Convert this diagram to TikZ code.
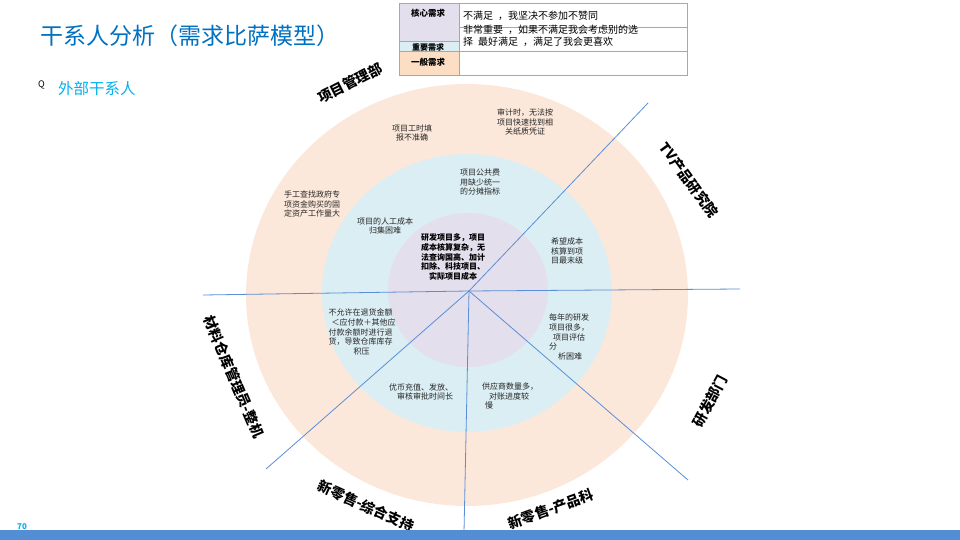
\documentclass[tikz,border=0pt]{standalone}
\usepackage{fontspec}
\setmainfont{Noto Sans CJK SC}
\usepackage{xcolor}
\usepackage{tikz}
\usetikzlibrary{positioning,calc}
\definecolor{titulo}{RGB}{0,112,192}
\definecolor{cian}{RGB}{0,176,240}
\definecolor{naranjo}{RGB}{252,232,218}
\definecolor{celeste}{RGB}{219,238,243}
\definecolor{lila}{RGB}{228,223,236}
\definecolor{linea}{RGB}{90,142,214}
\definecolor{barra}{RGB}{83,142,213}
\definecolor{borde}{RGB}{143,170,220}

\begin{document}
\begin{tikzpicture}[x=1pt,y=-1pt,
need/.style={align=center,font=\fontsize{8}{9.6}\selectfont,text=black!85,inner sep=0pt},
nucleo/.style={align=center,font=\bfseries\fontsize{8}{9.6}\selectfont,inner sep=0pt},
depto/.style={font=\bfseries\fontsize{14}{14}\selectfont,inner sep=0pt},
celda/.style={draw=borde,line width=0.8pt},
tag/.style={font=\bfseries\fontsize{8.5}{9}\selectfont,inner sep=0pt},
corte/.style={draw=linea,line width=0.8pt}
]
\useasboundingbox (0,0) rectangle (960,540);

% titulo
\node[anchor=west,inner sep=0pt,text=titulo,font=\fontsize{23}{23}\selectfont] (titulo) at (40,36) {干系人分析（需求比萨模型）};
\node[anchor=west,inner sep=0pt,font=\fontsize{9}{9}\selectfont] (bala) at (38,85) {Q};
\node[anchor=west,inner sep=0pt,text=cian,font=\fontsize{15.5}{15.5}\selectfont] (externo) at (58,89) {外部干系人};

% pizza
\fill[naranjo] (467,295) ellipse [x radius=221pt,y radius=211pt];
\fill[celeste] (467,293) ellipse [x radius=145pt,y radius=139pt];
\fill[lila] (468,290) ellipse [x radius=80pt,y radius=77pt];

\coordinate (c) at (469,291);
\coordinate (oeste) at (203,295);
\coordinate (este) at (740,289);
\coordinate (ne) at (648,103);
\coordinate (se) at (688,480);
\coordinate (so) at (266,469);
\coordinate (sur) at (464,532);
\foreach \p in {oeste,este,ne,se,so,sur}
  \draw[corte] (c) -- (\p);

% necesidades
\node[need] (auditoria) at (525,122) {审计时，无法按\\项目快速找到相\\关纸质凭证};
\node[need] (horas) at (412,133) {项目工时填\\报不准确};
\node[need] (gobierno) at (312,204) {手工查找政府专\\项资金购买的固\\定资产工作量大};
\node[need] (reparto) at (480,182) {项目公共费\\用缺少统一\\的分摊指标};
\node[need] (manoobra) at (385,226) {项目的人工成本\\归集困难};
\node[nucleo] (central) at (453,257) {研发项目多，项目\\成本核算复杂，无\\法查询国高、加计\\扣除、科技项目、\\实际项目成本};
\node[need] (detalle) at (567,251) {希望成本\\核算到项\\目最末级};
\node[need,align=left] (evaluar) at (569,337) {每年的研发\\项目很多，\\\hspace{4pt}项目评估\\分\\\hspace{9pt}析困难};
\node[need,align=left] (devolucion) at (362,332) {不允许在退货金额\\\hspace{3pt}＜应付款＋其他应\\付款余额时进行退\\货，导致仓库库存\\\hspace{25pt}积压};
\node[need] (monedas) at (421,392) {优币充值、发放、\\\hspace{8pt}审核审批时间长};
\node[need,align=left] (proveedor) at (510,396) {供应商数量多，\\\hspace{7pt}对账进度较\\\hspace{3pt}慢};

% departamentos
\node[depto,rotate=27] (gestion) at (350,83) {项目管理部};
\node[depto,rotate=-54] (tv) at (689,180) {TV产品研究院};
\node[depto,rotate=62] (idi) at (710,401) {研发部门};
\node[depto,rotate=-67] (almacen) at (234,377) {材料仓库管理员-整机};
\node[depto,rotate=-24] (soporte) at (366,506) {新零售-综合支持};
\node[depto,rotate=20] (producto) at (551,509) {新零售-产品科};

% tabla
\fill[lila] (399,3) rectangle (459,41);
\fill[celeste] (399,41) rectangle (459,51);
\fill[naranjo!90!orange] (399,51) rectangle (459,75);
\draw[celda] (399,3) rectangle (687,75);
\draw[celda] (459,3) -- (459,75);
\draw[celda] (399,41) -- (459,41);
\draw[celda] (399,51) -- (687,51);
\draw[celda] (459,27) -- (687,27);
\node[tag] (nucleo) at (428,13) {核心需求};
\node[tag,font=\bfseries\fontsize{8}{8}\selectfont] (importante) at (428,47) {重要需求};
\node[tag] (general) at (428,62) {一般需求};
\node[anchor=west,inner sep=0pt,font=\fontsize{10}{10}\selectfont] (fila1) at (463,16) {不满足\enspace，我坚决不参加不赞同};
\node[anchor=north west,align=left,inner sep=0pt,font=\fontsize{10}{12.5}\selectfont] (fila2) at (463,24.5) {非常重要\enspace，如果不满足我会考虑别的选\\择\enspace 最好满足\enspace，满足了我会更喜欢};

% pie
\fill[barra] (0,530) rectangle (960,540);
\node[inner sep=0pt,text=cian,font=\bfseries\fontsize{8}{8}\selectfont] (pagina) at (22,527) {70};
\end{tikzpicture}
\end{document}
